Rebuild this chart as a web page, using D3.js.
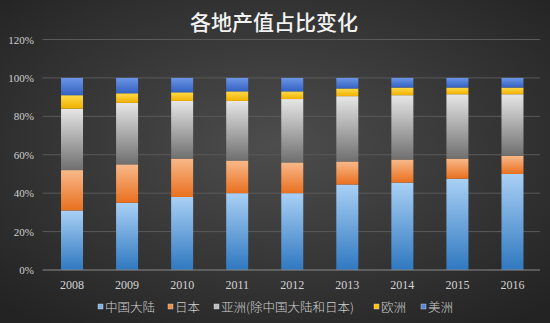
<!DOCTYPE html>
<html><head><meta charset="utf-8">
<script src="https://cdn.jsdelivr.net/npm/d3@7"></script>
<style>html,body{margin:0;padding:0;background:#2b2b2b;}svg{display:block;}</style>
</head><body>
<script>
const years = ["2008","2009","2010","2011","2012","2013","2014","2015","2016"];
const seriesNames = ["中国大陆","日本","亚洲(除中国大陆和日本)","欧洲","美洲"];
const chinaMainland = [31, 35, 38, 40, 40, 44.5, 45.5, 47.5, 50];
const japan        = [21, 20, 20, 17, 16, 12, 12, 10.5, 9.5];
const asiaOther    = [32, 32, 30, 31, 33, 34, 33.5, 33.5, 32];
const europe       = [7, 5, 4.5, 5, 4, 4, 4, 3.5, 3.5];
const americas     = [9, 8, 7.5, 7, 7, 5.5, 5, 5, 5];
const yTicks = [0, 20, 40, 60, 80, 100, 120];
const title = "各地产值占比变化";

const W = 550, H = 323;
const margin = {top: 39.5, right: 10, bottom: 53, left: 44.5};
const svg = d3.select("body").append("svg").attr("width", W).attr("height", H);
const defs = svg.append("defs");

const bg = defs.append("radialGradient").attr("id","bg").attr("cx","50%").attr("cy","45%").attr("r","70%");
bg.append("stop").attr("offset","0%").attr("stop-color","#4d4d4d");
bg.append("stop").attr("offset","100%").attr("stop-color","#232323");
svg.append("rect").attr("width",W).attr("height",H).attr("fill","url(#bg)");

const colors = [
  ["#a9d0f5","#2f78c0"],
  ["#f8b98a","#e9701f"],
  ["#e6e6e6","#6f6f6f"],
  ["#ffdb4a","#f0b000"],
  ["#6b95e6","#3462c2"]
];
const legendColors = ["#7fb3e6","#ef8b45","#bdbdbd","#ffc000","#5b83d6"];
colors.forEach((c,i)=>{
  const g = defs.append("linearGradient").attr("id","g"+i).attr("x1",0).attr("y1",0).attr("x2",0).attr("y2",1);
  g.append("stop").attr("offset","0%").attr("stop-color",c[0]);
  g.append("stop").attr("offset","100%").attr("stop-color",c[1]);
});

const x = d3.scaleBand().domain(years).range([margin.left, W - margin.right]).paddingInner(0.6).paddingOuter(0.3);
const y = d3.scaleLinear().domain([0,120]).range([H - margin.bottom, margin.top]);

// gridlines
svg.append("g").selectAll("line").data(yTicks.slice(1)).join("line")
  .attr("x1", margin.left - 2).attr("x2", W - margin.right)
  .attr("y1", d=>y(d)).attr("y2", d=>y(d))
  .attr("stroke","#5a5a5a").attr("stroke-width",1);

// y tick labels
svg.append("g").selectAll("text").data(yTicks).join("text")
  .attr("x", 34).attr("y", d=>y(d)+4)
  .attr("text-anchor","end")
  .attr("font-family","'Liberation Serif', serif").attr("font-size",11)
  .attr("fill","#cfcfcf").text(d=>d+"%");

// stack
const rows = years.map((yr,i)=>({year:yr, s0:chinaMainland[i], s1:japan[i], s2:asiaOther[i], s3:europe[i], s4:americas[i]}));
const stack = d3.stack().keys(["s0","s1","s2","s3","s4"])(rows);
const bw = 22;
stack.forEach((layer, li)=>{
  svg.append("g").selectAll("rect").data(layer).join("rect")
    .attr("x", d=>x(d.data.year) + x.bandwidth()/2 - bw/2)
    .attr("width", bw)
    .attr("y", d=>y(d[1]))
    .attr("height", d=>y(d[0]) - y(d[1]))
    .attr("fill", "url(#g"+li+")");
});

// x axis line
svg.append("line").attr("x1", margin.left - 2).attr("x2", W - margin.right)
  .attr("y1", y(0)).attr("y2", y(0)).attr("stroke","#8a8a8a").attr("stroke-width",1);

// x labels
svg.append("g").selectAll("text").data(years).join("text")
  .attr("x", d=>x(d)+x.bandwidth()/2).attr("y", y(0)+19)
  .attr("text-anchor","middle")
  .attr("font-family","'Liberation Serif', serif").attr("font-size",12)
  .attr("fill","#d4d4d4").text(d=>d);

// title
svg.append("text").attr("x", 274).attr("y", 30).attr("text-anchor","middle")
  .attr("font-family","'Noto Sans CJK SC', sans-serif").attr("font-size",21).attr("font-weight",500)
  .attr("fill","#f2f2f2").text(title);

// legend
const legendX = [98, 168, 214, 374, 421];
const lg = svg.append("g");
seriesNames.forEach((n,i)=>{
  lg.append("rect").attr("x", legendX[i]).attr("y", 304).attr("width",5).attr("height",5)
    .attr("fill", legendColors[i]).attr("stroke","#dddddd").attr("stroke-width",0.4);
  lg.append("text").attr("x", legendX[i]+7).attr("y", 311.5)
    .attr("font-family","'Noto Sans CJK SC', sans-serif").attr("font-size",12.5).attr("font-weight",300)
    .attr("fill","#cfcfcf").text(n);
});
</script>
</body></html>
